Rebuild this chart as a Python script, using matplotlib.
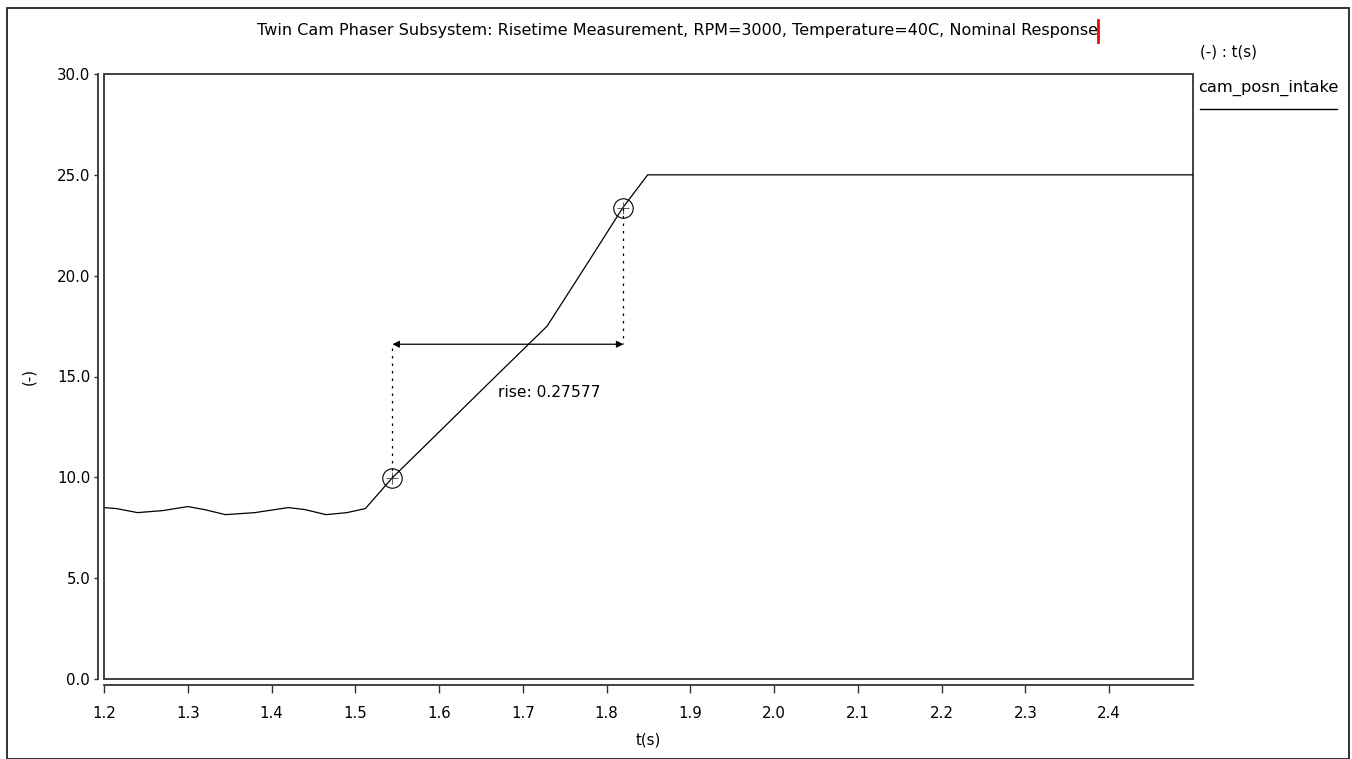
import matplotlib.pyplot as plt
from matplotlib.patches import Rectangle
from matplotlib.lines import Line2D

plt.rcParams['font.family'] = ['DejaVu Sans']

# signal
t = [1.200, 1.215, 1.240, 1.270, 1.300, 1.320, 1.345, 1.380, 1.420, 1.440,
     1.465, 1.490, 1.512, 1.544, 1.600, 1.660, 1.729, 1.780, 1.819, 1.849, 2.500]
cam_posn_intake = [8.50, 8.45, 8.25, 8.35, 8.55, 8.40, 8.15, 8.25, 8.50, 8.40,
                   8.15, 8.25, 8.45, 9.97, 12.25, 14.70, 17.50, 20.80, 23.35, 25.00, 25.00]

# rise time measurement
t_rise = [1.5443, 1.8201]
y_rise = [9.97, 23.35]
arrow_level = 16.6
rise_label = "rise: 0.27577"
rise_label_pos = (1.732, 14.2)

xticks = [1.2, 1.3, 1.4, 1.5, 1.6, 1.7, 1.8, 1.9, 2.0, 2.1, 2.2, 2.3, 2.4]
yticks = [0.0, 5.0, 10.0, 15.0, 20.0, 25.0, 30.0]

FS = 10.8
W, H = 1352, 759
fig = plt.figure(figsize=(W / 100, H / 100), dpi=100)

# outer border
fig.patches.append(Rectangle((7 / W, 0), (1349 - 7) / W, (H - 8) / H, transform=fig.transFigure,
                             fill=False, edgecolor='#222222', linewidth=1.3))

ax = fig.add_axes([104 / W, (H - 679) / H, (1193 - 104) / W, (679 - 74) / H])
ax.plot(t, cam_posn_intake, color='black', linewidth=0.9)
ax.set_xlim(1.2, 2.5)
ax.set_ylim(0, 30)

# measurement markers
ax.plot(t_rise, y_rise, 'o', markersize=14, markerfacecolor='none', markeredgecolor='black',
        markeredgewidth=0.8)
ax.plot(t_rise, y_rise, '+', markersize=8, color='#444444', markeredgewidth=0.6)
ax.vlines(t_rise, y_rise, arrow_level, colors='black', linestyles=(0, (2, 4)), linewidth=0.9)
ax.annotate('', xy=(t_rise[0], arrow_level), xytext=(t_rise[1], arrow_level),
            arrowprops=dict(arrowstyle='<|-|>', color='black', lw=0.9, mutation_scale=10,
                            shrinkA=0, shrinkB=0))
ax.text(*rise_label_pos, rise_label, fontsize=11.2, ha='center', va='center')

# inner frame + offset axis lines
ax.add_patch(Rectangle((0, 0), 1, 1, transform=ax.transAxes, fill=False,
                       edgecolor='#333333', linewidth=1.3, clip_on=False))
ax.spines[['top', 'right']].set_visible(False)
ax.spines['left'].set_position(('outward', 4))
ax.spines['bottom'].set_position(('outward', 4))
for s in ['left', 'bottom']:
    ax.spines[s].set_color('#333333')
    ax.spines[s].set_linewidth(1.3)

ax.set_xticks(xticks)
ax.set_xticklabels([f"{v:.1f}" for v in xticks])
ax.set_yticks(yticks)
ax.set_yticklabels([f"{v:.1f}" for v in yticks])
ax.tick_params(axis='x', direction='out', length=6, width=1, colors='#333333',
               labelcolor='black', labelsize=FS, pad=9.5)
ax.tick_params(axis='y', direction='out', length=3, width=1, colors='#333333',
               labelcolor='black', labelsize=FS, pad=3)
ax.set_xlabel('t(s)', fontsize=FS, labelpad=8)
ax.set_ylabel('(-)', fontsize=FS, labelpad=15)

fig.text(678 / W, 1 - 31 / H,
         'Twin Cam Phaser Subsystem: Risetime Measurement, RPM=3000, Temperature=40C, Nominal Response',
         ha='center', va='center', fontsize=11.5)
fig.add_artist(Line2D([1098 / W, 1098 / W], [1 - 20 / H, 1 - 42 / H], color='red', linewidth=2))

# legend on the right
fig.text(1200 / W, 1 - 52 / H, '(-) : t(s)', ha='left', va='center', fontsize=FS)
fig.text(1198 / W, 1 - 88 / H, 'cam_posn_intake', ha='left', va='center', fontsize=11.7)
fig.add_artist(Line2D([1200 / W, 1337 / W], [1 - 109 / H, 1 - 109 / H], color='black', linewidth=1))

fig.savefig('out.png', dpi=100)
